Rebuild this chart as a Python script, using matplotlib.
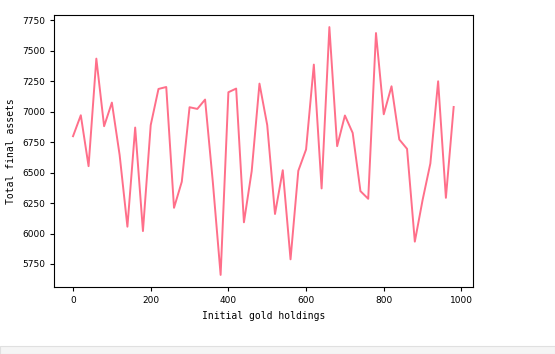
import numpy as np
import matplotlib.pyplot as plt
from matplotlib.patches import Rectangle

# Initial gold holdings vs total final assets
gold = np.arange(0, 1000, 20)
assets = [6799, 6971, 6553, 7436, 6881, 7075, 6644, 6056, 6870, 6020,
          6890, 7187, 7203, 6211, 6425, 7037, 7023, 7100, 6420, 5660,
          7160, 7190, 6092, 6512, 7231, 6890, 6160, 6520, 5788, 6515,
          6690, 7387, 6370, 7695, 6717, 6969, 6826, 6348, 6285, 7646,
          6979, 7209, 6772, 6695, 5933, 6275, 6575, 7250, 6293, 7039]

fig = plt.figure(figsize=(5.55, 3.54), dpi=100)
ax = fig.add_axes([0.0973, 0.1884, 0.7544, 0.7701])

ax.plot(gold, assets, color='#ff6f8a', linewidth=1.4)
ax.set_xlabel('Initial gold holdings', family='DejaVu Sans Mono', fontsize=7)
ax.set_ylabel('Total final assets', family='DejaVu Sans Mono', fontsize=7)
ax.set_xticks([0, 200, 400, 600, 800, 1000])
ax.set_yticks(np.arange(5750, 7751, 250))
ax.tick_params(labelsize=6.5, length=3)

# grey strip at the bottom (notebook output area)
fig.patches.append(Rectangle((0, 0), 1, 8 / 354, transform=fig.transFigure,
                             facecolor='#f5f5f5', edgecolor='#e0e0e0', linewidth=0.8))

plt.savefig('out.png', dpi=100)
